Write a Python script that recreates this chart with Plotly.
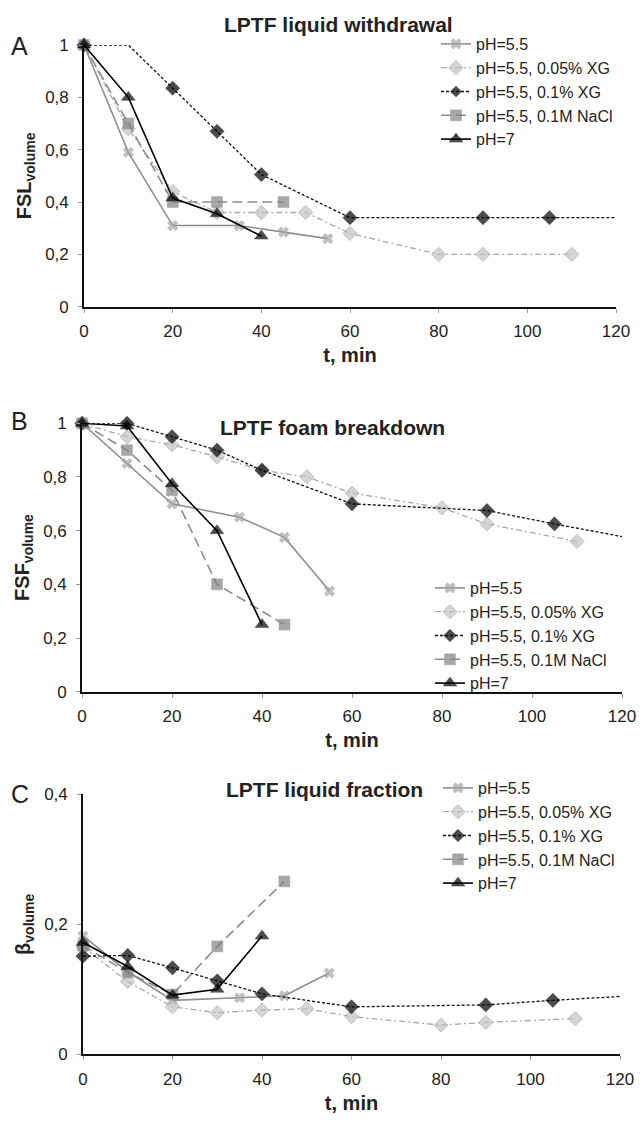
import plotly.graph_objects as go

W, H = 644, 1123

series_names = ["pH=5.5", "pH=5.5, 0.05% XG", "pH=5.5, 0.1% XG", "pH=5.5, 0.1M NaCl", "pH=7"]

t_ph55 = [0, 10, 20, 35, 45, 55]
t_xg005 = [0, 10, 20, 30, 40, 50, 60, 80, 90, 110]
t_xg01 = [0, 10, 20, 30, 40, 60, 90, 105, 120]
t_nacl = [0, 10, 20, 30, 45]
t_ph7 = [0, 10, 20, 30, 40]

# Panel A: FSL volume
A_ph55 = [1, 0.59, 0.31, 0.31, 0.285, 0.26]
A_xg005 = [1, 0.68, 0.44, 0.36, 0.36, 0.36, 0.28, 0.2, 0.2, 0.2]
A_xg01 = [1, 1, 0.835, 0.67, 0.505, 0.34, 0.34, 0.34, 0.34]
A_nacl = [1, 0.7, 0.4, 0.4, 0.4]
A_ph7 = [1, 0.8, 0.415, 0.355, 0.27]

# Panel B: FSF volume
B_ph55 = [1, 0.85, 0.7, 0.65, 0.575, 0.375]
B_xg005 = [1, 0.95, 0.92, 0.875, 0.825, 0.8, 0.74, 0.685, 0.625, 0.56]
B_xg01 = [1, 1, 0.95, 0.9, 0.825, 0.7, 0.675, 0.625, 0.578]
B_nacl = [1, 0.9, 0.75, 0.4, 0.25]
B_ph7 = [1, 0.99, 0.775, 0.6, 0.25]

# Panel C: beta volume
C_ph55 = [0.182, 0.127, 0.083, 0.087, 0.09, 0.125]
C_xg005 = [0.165, 0.112, 0.073, 0.064, 0.068, 0.07, 0.058, 0.045, 0.049, 0.055]
C_xg01 = [0.151, 0.152, 0.133, 0.113, 0.093, 0.073, 0.076, 0.083, 0.089]
C_nacl = [0.167, 0.126, 0.092, 0.166, 0.266]
C_ph7 = [0.172, 0.135, 0.091, 0.1, 0.182]

x_ticks = [0, 20, 40, 60, 80, 100, 120]
y_ticks_AB = [0, 0.2, 0.4, 0.6, 0.8, 1]
y_labels_AB = ["0", "0,2", "0,4", "0,6", "0,8", "1"]
y_ticks_C = [0, 0.2, 0.4]
y_labels_C = ["0", "0,2", "0,4"]

panel_titles = ["LPTF liquid withdrawal", "LPTF foam breakdown", "LPTF liquid fraction"]
panel_letters = ["A", "B", "C"]
y_titles = ["<b>FSL<sub>volume</sub></b>", "<b>FSF<sub>volume</sub></b>", "<b>β<sub>volume</sub></b>"]
x_title = "<b>t, min</b>"

FONT = "Liberation Sans, Arial, sans-serif"
TXT = "#222222"

styles = [
    dict(line=dict(color="#8f8f8f", width=1.6, dash="solid"),
         marker=dict(symbol="x", color="#a8a8a8", size=9, line=dict(color="#8a8a8a", width=0.6))),
    dict(line=dict(color="#a9a9a9", width=1.3, dash="6px,3px,2px,3px"),
         marker=dict(symbol="diamond", color="#c4c4c4", size=11, line=dict(color="#9c9c9c", width=0.8))),
    dict(line=dict(color="#111111", width=1.3, dash="3px,2px"),
         marker=dict(symbol="diamond", color="#000000", size=11, line=dict(color="#000000", width=0.5))),
    dict(line=dict(color="#8c8c8c", width=1.6, dash="10px,5px"),
         marker=dict(symbol="square", color="#838383", size=11, line=dict(color="#838383", width=0.5))),
    dict(line=dict(color="#000000", width=1.6, dash="solid"),
         marker=dict(symbol="triangle-up", color="#000000", size=12, line=dict(color="#000000", width=0.5))),
]

times = [t_ph55, t_xg005, t_xg01, t_nacl, t_ph7]
panels = [
    [A_ph55, A_xg005, A_xg01, A_nacl, A_ph7],
    [B_ph55, B_xg005, B_xg01, B_nacl, B_ph7],
    [C_ph55, C_xg005, C_xg01, C_nacl, C_ph7],
]

# points drawn without a marker (line continuation only): (panel, series, time)
no_marker = {(0, 2, 10), (0, 2, 120), (1, 2, 120), (2, 2, 120)}

# pixel geometry of each panel: x0, x120, y_top, y_bottom
geom = [
    (84, 616, 45, 306.7),
    (82, 622, 423.3, 691.7),
    (83, 620, 794.3, 1054.3),
]
legend_pos = [(436, 27), (430, 571), (438, 771)]
letter_pos = [(19, 46), (19.5, 421), (20, 793.5)]
title_pos = [(338, 25), (333, 427), (324.5, 789)]

def px(x):
    return x / W

def py(y):
    return 1 - y / H

fig = go.Figure()
for p in range(3):
    sfx = "" if p == 0 else str(p + 1)
    for s in range(5):
        st = styles[s]
        base = st["marker"]["size"]
        sizes = [0 if (p, s, t) in no_marker else base for t in times[s]]
        mk = dict(st["marker"])
        mk["size"] = sizes
        fig.add_trace(go.Scatter(
            x=times[s], y=panels[p][s], name=series_names[s], mode="lines+markers",
            line=st["line"], marker=mk, cliponaxis=False,
            xaxis="x" + sfx, yaxis="y" + sfx,
            legend="legend" + sfx,
        ))

layout = dict(
    width=W, height=H, margin=dict(l=0, r=0, t=0, b=0),
    paper_bgcolor="white", plot_bgcolor="white",
    font=dict(family=FONT, color=TXT, size=16),
    annotations=[],
)

for p in range(3):
    sfx = "" if p == 0 else str(p + 1)
    x0, x1, yt, yb = geom[p]
    common_axis = dict(
        showline=True, linecolor="#111111", linewidth=1.6, showgrid=False, zeroline=False,
        ticks="outside", ticklen=4, tickcolor="#9a9a9a", tickwidth=1,
        tickfont=dict(family=FONT, size=17, color=TXT), automargin=False,
    )
    layout["xaxis" + sfx] = dict(
        common_axis, domain=[px(x0), px(x1)], range=[0, 120], tickvals=x_ticks,
        anchor="y" + sfx, ticklabelstandoff=4,
        title=dict(text=x_title, font=dict(family=FONT, size=20, color=TXT), standoff=8),
    )
    if p < 2:
        yr, tv, tt = [0, 1], y_ticks_AB, y_labels_AB
    else:
        yr, tv, tt = [0, 0.4], y_ticks_C, y_labels_C
    layout["yaxis" + sfx] = dict(
        common_axis, domain=[py(yb), py(yt)], range=yr, tickvals=tv, ticktext=tt,
        anchor="x" + sfx, ticklabelstandoff=6,
        title=dict(text=y_titles[p], font=dict(family=FONT, size=20, color=TXT), standoff=8),
    )
    lx, ly = legend_pos[p]
    layout["legend" + sfx] = dict(
        x=px(lx), y=py(ly), xanchor="left", yanchor="top",
        bgcolor="rgba(0,0,0,0)", font=dict(family=FONT, size=16, color=TXT),
        traceorder="normal", itemwidth=30,
    )
    ann = layout["annotations"]
    ann.append(dict(text=panel_letters[p], x=px(letter_pos[p][0]), y=py(letter_pos[p][1]),
                    xref="paper", yref="paper", showarrow=False, xanchor="center", yanchor="middle",
                    font=dict(family=FONT, size=25, color=TXT)))
    ann.append(dict(text="<b>" + panel_titles[p] + "</b>", x=px(title_pos[p][0]), y=py(title_pos[p][1]),
                    xref="paper", yref="paper", showarrow=False, xanchor="center", yanchor="middle",
                    font=dict(family=FONT, size=21, color=TXT)))

fig.update_layout(**layout)
fig.write_html("out.html", config={"displayModeBar": False},
               post_script="document.body.style.margin='0';")
